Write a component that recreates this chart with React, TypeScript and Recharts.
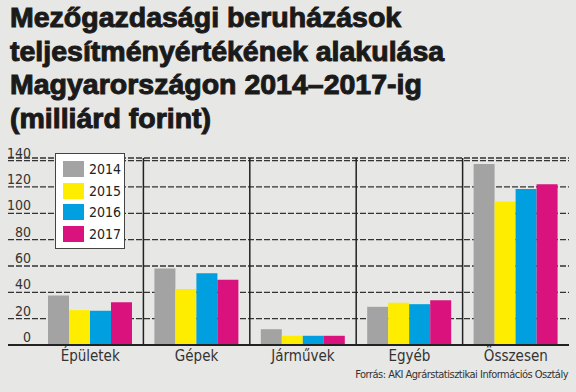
import { BarChart, Bar, XAxis, YAxis, CartesianGrid, ReferenceLine } from "recharts";

const categories = ["Épületek", "Gépek", "Járművek", "Egyéb", "Összesen"];
const years = ["2014", "2015", "2016", "2017"];
const v2014 = [37.5, 58, 12, 29, 137.5];
const v2015 = [26.5, 42.5, 7, 32, 109];
const v2016 = [26, 54.5, 7, 31, 118.5];
const v2017 = [32.5, 49.5, 7, 34, 122];
const yTicks = [0, 20, 40, 60, 80, 100, 120, 140];
const colors = ["#a3a3a3", "#ffed00", "#009fdf", "#d9127e"];

const titleLines = [
  "Mezőgazdasági beruházások",
  "teljesítményértékének alakulása",
  "Magyarországon 2014–2017-ig",
  "(milliárd forint)",
];
const source = "Forrás: AKI Agrárstatisztikai Információs Osztály";

const series = [v2014, v2015, v2016, v2017];
const data = categories.map((name, i) => {
  const row: Record<string, string | number> = { name };
  years.forEach((y, j) => (row[y] = series[j][i]));
  return row;
});

const narrow = "'Liberation Sans Narrow', 'DejaVu Sans Condensed', sans-serif";

const YTick = (props: any) => {
  const { y, payload } = props;
  return (
    <text x={31} y={y - 3} textAnchor="end" fontSize={14} fill="#333" fontFamily={narrow}>
      {payload.value}
    </text>
  );
};

export default function App() {
  return (
    <div style={{ position: "relative", width: 576, height: 392, background: "#e7e7e5", overflow: "hidden" }}>
      <style>{"body{margin:0}"}</style>
      <BarChart
        width={576}
        height={392}
        data={data}
        margin={{ top: 158, right: 7, bottom: 27, left: 8 }}
        barCategoryGap={11}
        barGap={0}
      >
        <CartesianGrid vertical={false} stroke="#333" strokeWidth={1.3} strokeDasharray="6 2" />
        <XAxis
          dataKey="name"
          padding={{ left: 29, right: 0 }}
          tickLine={false}
          tickSize={5}
          tickMargin={0}
          axisLine={{ stroke: "#222", strokeWidth: 2 }}
          tick={{ fill: "#333", fontSize: 15, fontFamily: narrow }}
          height={20}
        />
        <YAxis mirror domain={[0, 142]} ticks={yTicks} tick={<YTick />} axisLine={false} tickLine={false} />
        {categories.slice(0, -1).map((c) => (
          <ReferenceLine key={c} x={c} position="end" stroke="#222" strokeWidth={1.5} />
        ))}
        {years.map((y, j) => (
          <Bar key={y} dataKey={y} fill={colors[j]} isAnimationActive={false} />
        ))}
      </BarChart>

      <div
        style={{
          position: "absolute",
          left: 10,
          top: 1,
          fontFamily: "'Liberation Sans', Arial, sans-serif",
          fontWeight: 700,
          fontSize: 28.5,
          lineHeight: "33.5px",
          color: "#1a1a1a",
          WebkitTextStroke: "1px #1a1a1a",
          whiteSpace: "nowrap",
        }}
      >
        {titleLines.map((l) => (
          <div key={l}>{l}</div>
        ))}
      </div>

      <div
        style={{
          position: "absolute",
          left: 55,
          top: 153,
          width: 68,
          height: 94,
          background: "#fff",
          border: "1.5px solid #444",
          fontFamily: narrow,
          fontSize: 14,
          color: "#222",
        }}
      >
        {years.map((y, j) => (
          <div key={y} style={{ position: "absolute", left: 7, top: 7 + j * 21.5, display: "flex", alignItems: "center" }}>
            <div style={{ width: 21, height: 16, background: colors[j] }} />
            <span style={{ marginLeft: 5 }}>{y}</span>
          </div>
        ))}
      </div>

      <div
        style={{
          position: "absolute",
          right: 8,
          top: 368,
          fontFamily: narrow,
          fontSize: 11,
          letterSpacing: -0.5,
          color: "#333",
          whiteSpace: "nowrap",
        }}
      >
        {source}
      </div>
    </div>
  );
}
